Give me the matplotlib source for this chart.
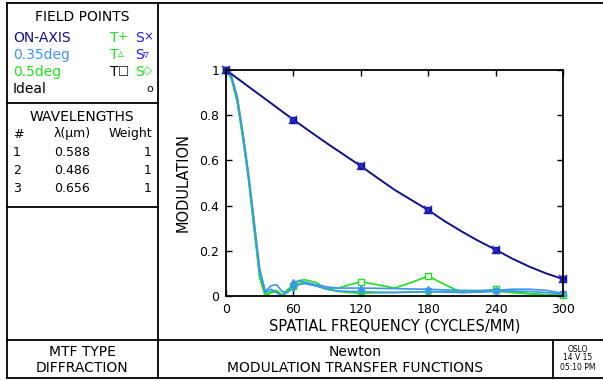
import matplotlib
matplotlib.use("Agg")
import matplotlib.pyplot as plt

# on-axis curve (T and S coincide)
f_axis = [0, 15, 30, 45, 60, 75, 90, 105, 120, 135, 150, 165, 180, 195, 210,
          225, 240, 255, 270, 285, 300]
mtf_axis = [1.0, 0.945, 0.89, 0.835, 0.78, 0.727, 0.675, 0.625, 0.575, 0.522,
            0.47, 0.425, 0.38, 0.33, 0.285, 0.243, 0.205, 0.165, 0.13, 0.1, 0.075]

# off-axis curves
freq = [0, 5, 10, 15, 20, 25, 30, 35, 40, 45, 50, 55, 60, 65, 70, 80, 90, 100,
        110, 120, 135, 150, 165, 180, 195, 210, 225, 240, 255, 270, 285, 300]
t035 = [1.0, 0.97, 0.88, 0.72, 0.54, 0.33, 0.12, 0.02, 0.045, 0.05, 0.02, 0.015,
        0.062, 0.066, 0.062, 0.05, 0.04, 0.035, 0.035, 0.035, 0.034, 0.033, 0.031,
        0.03, 0.027, 0.025, 0.024, 0.025, 0.03, 0.03, 0.025, 0.012]
s035 = [1.0, 0.97, 0.88, 0.72, 0.54, 0.33, 0.11, 0.015, 0.03, 0.015, 0.0, 0.02,
        0.035, 0.05, 0.055, 0.045, 0.03, 0.022, 0.02, 0.02, 0.017, 0.015, 0.017,
        0.02, 0.017, 0.015, 0.017, 0.02, 0.022, 0.02, 0.015, 0.01]
t05 = [1.0, 0.96, 0.86, 0.70, 0.52, 0.30, 0.09, 0.005, 0.02, 0.025, 0.005, 0.03,
       0.045, 0.068, 0.072, 0.06, 0.032, 0.035, 0.05, 0.063, 0.05, 0.035, 0.06,
       0.088, 0.05, 0.015, 0.02, 0.03, 0.02, 0.01, 0.005, 0.003]
s05 = [1.0, 0.96, 0.86, 0.70, 0.52, 0.30, 0.08, 0.0, 0.015, 0.02, 0.0, 0.02,
       0.04, 0.055, 0.058, 0.045, 0.03, 0.02, 0.015, 0.012, 0.014, 0.016, 0.018,
       0.018, 0.02, 0.022, 0.024, 0.022, 0.015, 0.01, 0.006, 0.004]

marker_f = [0, 60, 120, 180, 240, 300]

wl_num = ["1", "2", "3"]
wl_val = ["0.588", "0.486", "0.656"]
wl_wt = ["1", "1", "1"]

navy = "#10108a"
blue = "#3c96f0"
green = "#22e022"
sblue = "#2020e0"

plt.rcParams['font.family'] = ['DejaVu Sans']

fig = plt.figure(figsize=(6.03, 3.81), dpi=100)

# page frame in pixel coords
bg = fig.add_axes([0, 0, 1, 1])
bg.set_xlim(0, 603)
bg.set_ylim(381, 0)
bg.axis('off')
lw = 1.3
bg.plot([7, 603], [2.5, 2.5], color="black", lw=lw)
bg.plot([7, 603], [378, 378], color="black", lw=lw)
bg.plot([7, 7], [2.5, 378], color="black", lw=lw)
bg.plot([158, 158], [2.5, 378], color="black", lw=lw)
bg.plot([7, 158], [103, 103], color="black", lw=lw)
bg.plot([7, 158], [207, 207], color="black", lw=lw)
bg.plot([7, 603], [340, 340], color="black", lw=lw)
bg.plot([553, 553], [340, 378], color="black", lw=lw)

fs = 10
bg.text(82, 17, "FIELD POINTS", ha="center", va="center", fontsize=fs)
bg.text(13, 38, "ON-AXIS", color=navy, va="center", fontsize=fs)
bg.text(13, 55, "0.35deg", color=blue, va="center", fontsize=fs)
bg.text(13, 72, "0.5deg", color=green, va="center", fontsize=fs)
bg.text(13, 89, "Ideal", color="black", va="center", fontsize=fs)

# legend codes: letter + small symbol
codes = [(38, "T", green, "+", "S", sblue, "\u00d7"),
         (55, "T", green, "\u25b5", "S", sblue, "\u25bf"),
         (72, "T", "black", "\u25a1", "S", green, "\u25c7")]
for y, t, tc, tsym, s, sc, ssym in codes:
    bg.text(110, y, t, color=tc, va="center", fontsize=fs)
    bg.text(118, y - 1, tsym, color=tc, va="center", fontsize=8.5)
    bg.text(135, y, s, color=sc, va="center", fontsize=fs)
    bg.text(143, y - 1, ssym, color=sc, va="center", fontsize=8.5)
bg.text(146, 89, "o", color="black", va="center", fontsize=8)

bg.text(82, 117, "WAVELENGTHS", ha="center", va="center", fontsize=fs)
bg.text(13, 134, "#", va="center", fontsize=9)
bg.text(72, 134, "\u03bb(\u03bcm)", ha="center", va="center", fontsize=9)
bg.text(152, 134, "Weight", ha="right", va="center", fontsize=9)
for i in range(3):
    y = 152 + i * 18
    bg.text(13, y, wl_num[i], va="center", fontsize=9)
    bg.text(72, y, wl_val[i], ha="center", va="center", fontsize=9)
    bg.text(152, y, wl_wt[i], ha="right", va="center", fontsize=9)

bg.text(82, 352, "MTF TYPE", ha="center", va="center", fontsize=fs)
bg.text(82, 368, "DIFFRACTION", ha="center", va="center", fontsize=fs)
bg.text(355, 352, "Newton", ha="center", va="center", fontsize=fs)
bg.text(355, 368, "MODULATION TRANSFER FUNCTIONS", ha="center", va="center", fontsize=fs)
bg.text(578, 349, "OSLO", ha="center", va="center", fontsize=5.5)
bg.text(578, 358, "14 V 15", ha="center", va="center", fontsize=5.5)
bg.text(578, 368, "05:10 PM", ha="center", va="center", fontsize=5.5)

# MTF plot
ax = fig.add_axes([226 / 603, (381 - 296) / 381, 337 / 603, 226 / 381])
ax.patch.set_alpha(0)
lwc = 1.2
ax.plot(freq, s05, color=green, lw=lwc)
ax.plot(freq, t05, color=green, lw=lwc)
ax.plot(freq, s035, color=blue, lw=lwc)
ax.plot(freq, t035, color=blue, lw=lwc)
ax.plot(f_axis, mtf_axis, color=navy, lw=1.4)

def at(xs, ys, f):
    return ys[xs.index(f)]

ax.plot(marker_f, [at(freq, s05, f) for f in marker_f], ls="none", marker="D",
        ms=3.5, mfc=green, mec=green, clip_on=False)
ax.plot(marker_f, [at(freq, t05, f) for f in marker_f], ls="none", marker="s",
        ms=4.5, mfc="white", mec=green, mew=1, clip_on=False)
ax.plot(marker_f, [at(freq, s035, f) for f in marker_f], ls="none", marker="v",
        ms=4.5, mfc=blue, mec=blue, clip_on=False)
ax.plot(marker_f, [at(freq, t035, f) for f in marker_f], ls="none", marker="^",
        ms=4.5, mfc=blue, mec=blue, clip_on=False)
ax.plot(marker_f, [at(f_axis, mtf_axis, f) for f in marker_f], ls="none", marker="s",
        ms=5, mfc=navy, mec=navy, clip_on=False)
ax.plot(marker_f, [at(f_axis, mtf_axis, f) for f in marker_f], ls="none", marker="x",
        ms=6, mec="#2a2ad0", mew=1.2, clip_on=False)

ax.set_xlim(0, 300)
ax.set_ylim(0, 1)
ax.set_xticks([0, 60, 120, 180, 240, 300])
ax.set_xticklabels(["0", "60", "120", "180", "240", "300"])
ax.set_yticks([0, 0.2, 0.4, 0.6, 0.8, 1.0])
ax.set_yticklabels(["0", "0.2", "0.4", "0.6", "0.8", "1"])
ax.tick_params(direction="in", length=4, width=1, top=True, right=True,
               labelsize=9, pad=5)
for s in ax.spines.values():
    s.set_linewidth(1.3)
ax.set_xlabel("SPATIAL FREQUENCY (CYCLES/MM)", fontsize=10.5, labelpad=2)
ax.set_ylabel("MODULATION", fontsize=10.5, labelpad=6)

fig.savefig("out.png", dpi=100)
